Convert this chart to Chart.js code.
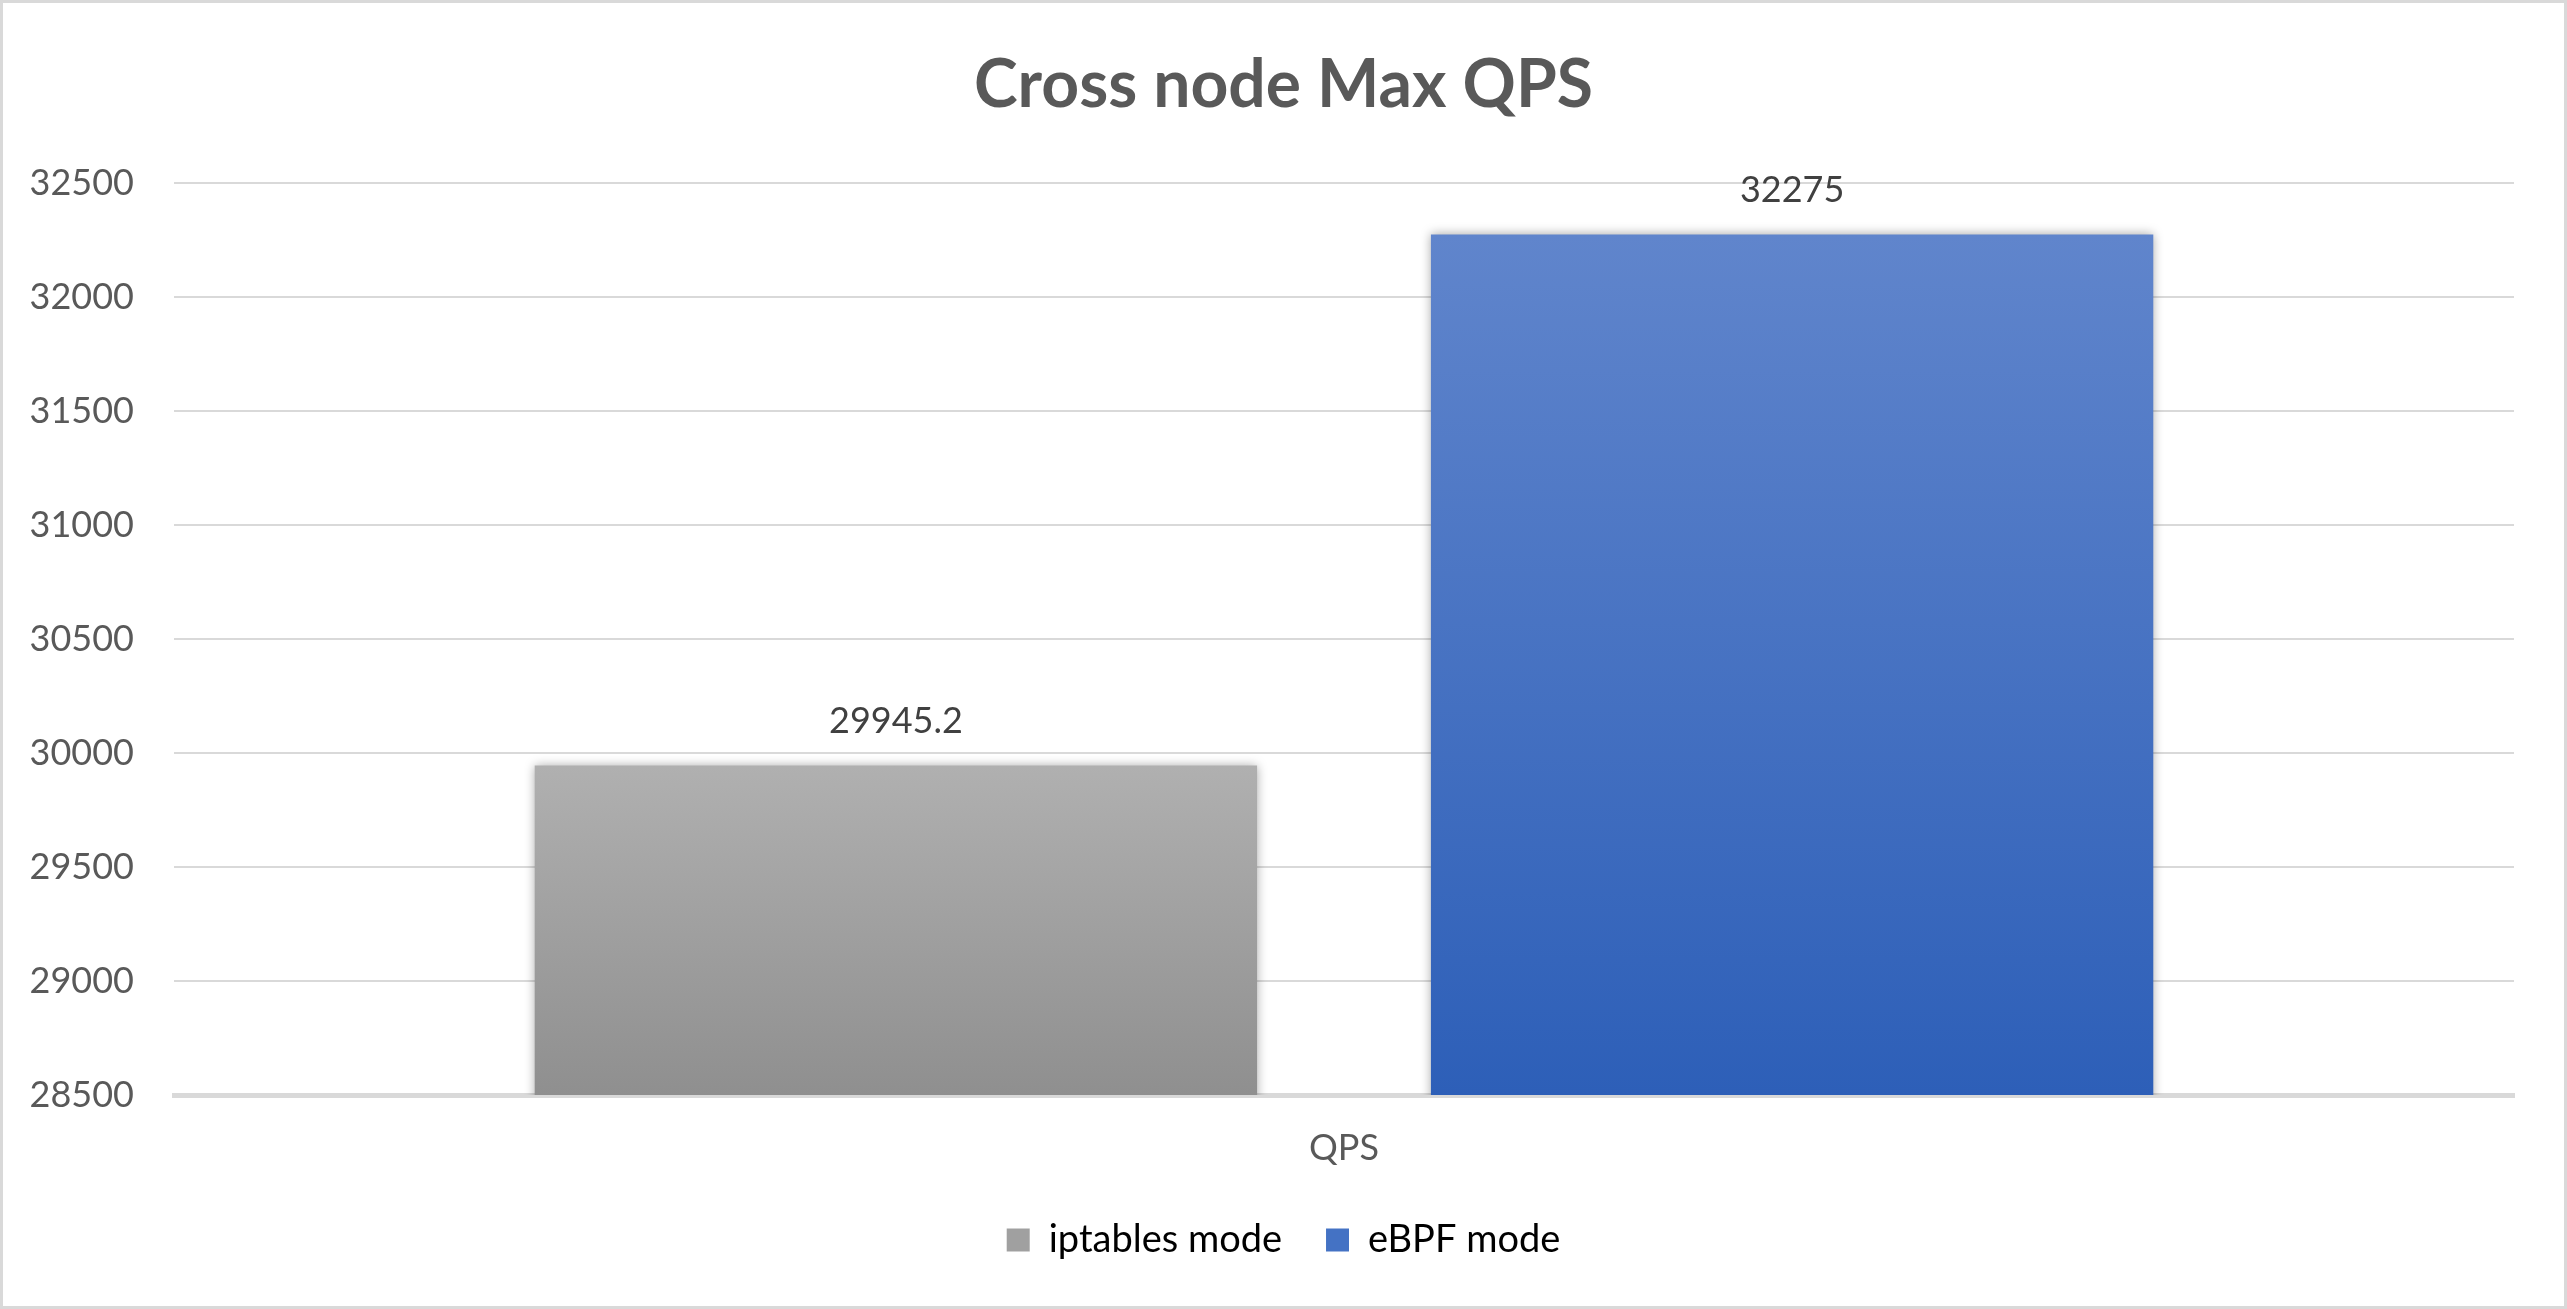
<!DOCTYPE html>
<html>
<head>
<meta charset="utf-8">
<script src="https://cdn.jsdelivr.net/npm/chart.js@4.4.1/dist/chart.umd.min.js"></script>
<style>
  html, body { margin: 0; padding: 0; background: #ffffff; }
  canvas { display: block; }
</style>
</head>
<body>
<canvas id="c" width="2567" height="1309"></canvas>
<script>
const chartTitle = 'Cross node Max QPS';
const categories = ['QPS'];
const seriesNames = ['iptables mode', 'eBPF mode'];
const iptablesValues = [29945.2];
const ebpfValues = [32275];
const yTicks = [28500, 29000, 29500, 30000, 30500, 31000, 31500, 32000, 32500];

const gradientStops = [
  ['#b0b0b0', '#8f8f8f'],
  ['#6085cc', '#2d5fb8']
];

function barGradient(dsIndex) {
  return function (ctx) {
    const chart = ctx.chart;
    const area = chart.chartArea;
    if (!area || ctx.type !== 'data') return gradientStops[dsIndex][1];
    const val = ctx.raw;
    const top = chart.scales.y.getPixelForValue(val);
    const g = chart.ctx.createLinearGradient(0, top, 0, area.bottom);
    g.addColorStop(0, gradientStops[dsIndex][0]);
    g.addColorStop(1, gradientStops[dsIndex][1]);
    return g;
  };
}

const decorPlugin = {
  id: 'decor',
  beforeDraw(chart) {
    const c = chart.ctx;
    c.save();
    c.fillStyle = '#ffffff';
    c.fillRect(0, 0, chart.width, chart.height);
    c.restore();
  },
  beforeDatasetsDraw(chart) {
    const c = chart.ctx;
    c.save();
    c.shadowColor = 'rgba(0,0,0,0.35)';
    c.shadowBlur = 10;
    c.shadowOffsetX = 0;
    c.shadowOffsetY = 0;
  },
  afterDatasetsDraw(chart) {
    const c = chart.ctx;
    c.restore();
    c.save();
    c.font = '36px Lato';
    c.fillStyle = '#404040';
    c.textAlign = 'center';
    c.textBaseline = 'middle';
    chart.data.datasets.forEach((ds, di) => {
      const meta = chart.getDatasetMeta(di);
      meta.data.forEach((el, i) => {
        c.fillText(String(ds.data[i]), el.x, el.y - 44);
      });
    });
    c.restore();
  },
  afterDraw(chart) {
    const c = chart.ctx;
    c.save();
    c.strokeStyle = '#d9d9d9';
    c.lineWidth = 3;
    c.strokeRect(1.5, 1.5, chart.width - 3, chart.height - 3);
    c.restore();
  }
};

function build() {
  new Chart(document.getElementById('c'), {
    type: 'bar',
    data: {
      labels: categories,
      datasets: [
        { label: seriesNames[0], data: iptablesValues, backgroundColor: barGradient(0), yAxisID: 'y' },
        { label: seriesNames[1], data: ebpfValues, backgroundColor: barGradient(1), yAxisID: 'y' }
      ]
    },
    options: {
      responsive: false,
      animation: false,
      devicePixelRatio: 1,
      categoryPercentage: 0.766,
      barPercentage: 0.806,
      layout: { padding: { left: 20, right: 20, top: 0, bottom: 40 } },
      plugins: {
        title: {
          display: true,
          text: chartTitle,
          color: '#595959',
          font: { family: 'Lato', size: 66, weight: 'bold' },
          padding: { top: 46, bottom: 58 }
        },
        legend: {
          position: 'bottom',
          labels: {
            color: '#595959',
            font: { family: 'Lato', size: 38 },
            boxWidth: 23,
            boxHeight: 23,
            padding: 44,
            generateLabels(chart) {
              return chart.data.datasets.map((ds, i) => ({
                text: ds.label,
                fillStyle: i === 0 ? '#a0a0a0' : '#4472c4',
                strokeStyle: 'rgba(0,0,0,0)',
                lineWidth: 0,
                hidden: false,
                datasetIndex: i
              }));
            }
          }
        },
        tooltip: { enabled: false }
      },
      scales: {
        x: {
          grid: { display: false, drawTicks: false },
          border: { display: true, color: '#d9d9d9', width: 5 },
          ticks: { color: '#595959', font: { family: 'Lato', size: 36 }, padding: 32 },
          afterFit(scale) { scale.height = 82; }
        },
        y: {
          position: 'left',
          min: yTicks[0],
          max: yTicks[yTicks.length - 1],
          grid: { color: '#d9d9d9', lineWidth: 2, drawTicks: false },
          border: { display: false },
          afterBuildTicks(scale) { scale.ticks = yTicks.map(v => ({ value: v })); },
          ticks: {
            color: '#595959',
            font: { family: 'Lato', size: 36 },
            padding: 40,
            callback: (v) => String(v)
          },
          afterFit(scale) { scale.width = 154; }
        },
        yRight: {
          position: 'right',
          display: true,
          min: yTicks[0],
          max: yTicks[yTicks.length - 1],
          grid: { display: false, drawTicks: false },
          border: { display: false },
          ticks: { display: false },
          afterFit(scale) { scale.width = 33; }
        }
      }
    },
    plugins: [decorPlugin]
  });
}

Promise.all([
  document.fonts.load('36px Lato'),
  document.fonts.load('bold 66px Lato')
]).then(build, build);
</script>
</body>
</html>
